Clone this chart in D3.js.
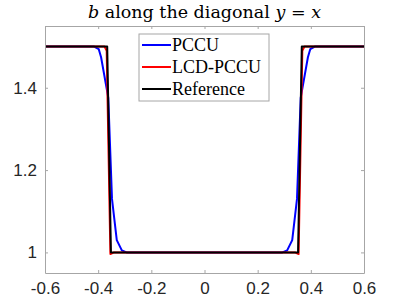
<!DOCTYPE html>
<html>
<head>
<meta charset="utf-8">
<script src="https://cdn.jsdelivr.net/npm/d3@7"></script>
<style>
  body { margin: 0; background: #fff; }
  svg { display: block; }
</style>
</head>
<body>
<div id="chart"></div>
<script>
// data: [x, b]
const pccu = [
  [-0.6, 1.5], [-0.415, 1.5], [-0.398, 1.494], [-0.389, 1.474], [-0.362, 1.376],
  [-0.348, 1.13], [-0.330, 1.03], [-0.311, 1.005], [-0.293, 1.0],
  [0.293, 1.0], [0.311, 1.005], [0.330, 1.03], [0.348, 1.13], [0.362, 1.376],
  [0.389, 1.474], [0.398, 1.494], [0.415, 1.5], [0.6, 1.5],
];
const lcdPccu = [
  [-0.6, 1.5], [-0.376, 1.5], [-0.368, 1.49], [-0.354, 0.996], [-0.340, 1.0],
  [0.340, 1.0], [0.354, 0.996], [0.368, 1.49], [0.376, 1.5], [0.6, 1.5],
];
const reference = [
  [-0.6, 1.5], [-0.366, 1.5], [-0.352, 1.0],
  [0.352, 1.0], [0.366, 1.5], [0.6, 1.5],
];
const seriesNames = ['PCCU', 'LCD-PCCU', 'Reference'];
const seriesColors = ['#0000ff', '#ff0000', '#000000'];
const xTicks = [-0.6, -0.4, -0.2, 0, 0.2, 0.4, 0.6];
const yTicks = [1, 1.2, 1.4];

const width = 393;
const height = 304;
const margin = { top: 26, right: 29, bottom: 31, left: 45 };

const svg = d3.select('#chart')
  .append('svg')
  .attr('width', width)
  .attr('height', height);

const x = d3.scaleLinear()
  .domain([-0.6, 0.6])
  .range([margin.left, width - margin.right]);

const y = d3.scaleLinear()
  .domain([0.95, 1.55])
  .range([height - margin.bottom, margin.top]);

const axisColor = '#a6a6a6';
const textColor = '#262626';
const tickFont = '"Liberation Sans", Arial, sans-serif';
const serifFont = '"Liberation Serif", "Times New Roman", serif';
const titleFont = '"DejaVu Serif", serif';

// lines
const line = d3.line()
  .x((d) => x(d[0]))
  .y((d) => y(d[1]));

svg.append('clipPath')
  .attr('id', 'plot-clip')
  .append('rect')
  .attr('x', x.range()[0])
  .attr('y', y.range()[1])
  .attr('width', x.range()[1] - x.range()[0])
  .attr('height', y.range()[0] - y.range()[1]);

[pccu, lcdPccu, reference].forEach((data, i) => {
  svg.append('path')
    .datum(data)
    .attr('clip-path', 'url(#plot-clip)')
    .attr('fill', 'none')
    .attr('stroke', seriesColors[i])
    .attr('stroke-width', 2)
    .attr('stroke-linejoin', 'round')
    .attr('d', line);
});

// axes (box with inward ticks on all sides)
const fmt = (d) => String(d);

const styleAxis = (g) => g
  .call((a) => a.select('.domain').attr('stroke', axisColor))
  .call((a) => a.selectAll('.tick line').attr('stroke', axisColor))
  .call((a) => a.selectAll('.tick text')
    .attr('fill', textColor)
    .attr('font-family', tickFont)
    .attr('font-size', 17));

svg.append('g')
  .attr('transform', `translate(0,${y.range()[0]})`)
  .call(d3.axisBottom(x).tickValues(xTicks).tickFormat(fmt).tickSizeInner(-3).tickSizeOuter(0).tickPadding(9))
  .call(styleAxis);

svg.append('g')
  .attr('transform', `translate(0,${y.range()[1]})`)
  .call(d3.axisTop(x).tickValues(xTicks).tickFormat('').tickSizeInner(-3).tickSizeOuter(0))
  .call(styleAxis);

svg.append('g')
  .attr('transform', `translate(${x.range()[0]},0)`)
  .call(d3.axisLeft(y).tickValues(yTicks).tickFormat(fmt).tickSizeInner(-3).tickSizeOuter(0).tickPadding(8))
  .call(styleAxis);

svg.append('g')
  .attr('transform', `translate(${x.range()[1]},0)`)
  .call(d3.axisRight(y).tickValues(yTicks).tickFormat('').tickSizeInner(-3).tickSizeOuter(0))
  .call(styleAxis);

// title
const title = svg.append('text')
  .attr('x', (x.range()[0] + x.range()[1]) / 2)
  .attr('y', 18)
  .attr('text-anchor', 'middle')
  .attr('font-family', titleFont)
  .attr('font-size', 17.5)
  .attr('fill', '#000');
title.append('tspan').attr('font-style', 'italic').text('b');
title.append('tspan').text(' along the diagonal ');
title.append('tspan').attr('font-style', 'italic').text('y');
title.append('tspan').text(' = ');
title.append('tspan').attr('font-style', 'italic').text('x');

// legend
const legend = svg.append('g')
  .attr('transform', 'translate(139,34)');

legend.append('rect')
  .attr('width', 130)
  .attr('height', 67)
  .attr('fill', '#fff')
  .attr('stroke', axisColor)
  .attr('stroke-width', 1);

const items = legend.selectAll('g.item')
  .data(seriesNames)
  .join('g')
  .attr('class', 'item')
  .attr('transform', (_, i) => `translate(0,${11 + i * 22})`);

items.append('line')
  .attr('x1', 3)
  .attr('x2', 32)
  .attr('stroke', (_, i) => seriesColors[i])
  .attr('stroke-width', 2);

items.append('text')
  .attr('x', 33)
  .attr('y', 6)
  .attr('font-family', serifFont)
  .attr('font-size', 18)
  .attr('fill', '#000')
  .text((d) => d);
</script>
</body>
</html>
